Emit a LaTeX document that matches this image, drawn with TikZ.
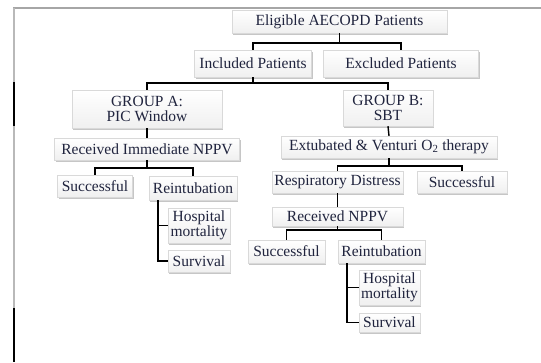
\documentclass[tikz,border=0pt]{standalone}
\usepackage{fontspec}
\setmainfont{Liberation Serif}
\usetikzlibrary{shadows}
\definecolor{boxtext}{RGB}{32,36,62}
\tikzset{
      flowbox/.style={
        draw=gray!30,
        line width=0.4pt,
        top color=white,
        bottom color=gray!12,
        drop shadow={shadow xshift=1.4pt,shadow yshift=-1.6pt,opacity=0.45},
        text=boxtext,
        font=\fontsize{15.5}{15}\selectfont,
        align=center,
        inner sep=1pt
      },
      link/.style={line width=1.4pt, color=black}
    }

\begin{document}
\begin{tikzpicture}[x=1pt,y=-1pt]
    \useasboundingbox (0,0) rectangle (541,362);
    \draw[gray!70, line width=2.5pt] (13,8) -- (541,8);
    \draw[gray!55, line width=2pt] (14,8) -- (14,362);
    \draw[black, line width=2pt] (14,82) -- (14,126);
    \draw[black, line width=2pt] (14,308) -- (14,362);

    \node[flowbox, minimum width=215pt, minimum height=23pt] (elig) at (339.5,21.5) {Eligible AECOPD Patients};
    \node[flowbox, minimum width=117pt, minimum height=27pt] (incl) at (253,63.5) {Included Patients};
    \node[flowbox, minimum width=155pt, minimum height=27pt] (excl) at (401,63.5) {Excluded Patients};
    \node[flowbox, minimum width=150pt, minimum height=38pt] (grpa) at (147,109) {GROUP A:\\PIC Window};
    \node[flowbox, minimum width=90pt, minimum height=36pt] (grpb) at (388,108) {GROUP B:\\SBT};
    \node[flowbox, minimum width=185pt, minimum height=22pt] (nppva) at (147,149) {Received Immediate NPPV};
    \node[flowbox, minimum width=75pt, minimum height=22pt] (succa) at (95,186) {Successful};
    \node[flowbox, minimum width=88pt, minimum height=24pt] (reinta) at (193,188) {Reintubation};
    \node[flowbox, minimum width=62pt, minimum height=35pt] (hospa) at (199,225.5) {Hospital\\mortality};
    \node[flowbox, minimum width=62pt, minimum height=22pt] (surva) at (199,261) {Survival};
    \node[flowbox, minimum width=216pt, minimum height=22pt] (extb) at (389,147) {Extubated \& Venturi O\textsubscript{2} therapy};
    \node[flowbox, minimum width=131pt, minimum height=22pt] (respb) at (337.5,182) {Respiratory Distress};
    \node[flowbox, minimum width=90pt, minimum height=22pt] (succb) at (462,182) {Successful};
    \node[flowbox, minimum width=131pt, minimum height=19pt] (nppvb) at (337.5,216.5) {Received NPPV};
    \node[flowbox, minimum width=77pt, minimum height=23pt] (succc) at (286.5,251.5) {Successful};
    \node[flowbox, minimum width=87pt, minimum height=23pt] (reintb) at (381.5,251.5) {Reintubation};
    \node[flowbox, minimum width=61pt, minimum height=35pt] (hospb) at (389.5,287.5) {Hospital\\mortality};
    \node[flowbox, minimum width=61pt, minimum height=19pt] (survb) at (389.5,322.5) {Survival};

    \draw[link] (elig.south) -- (elig.south |- 0,43) -| (incl.north);
    \draw[link] (elig.south) -- (elig.south |- 0,43) -| (excl.north);
    \draw[link] (incl.south) -- (incl.south |- 0,83) -| (grpa.north);
    \draw[link] (incl.south) -- (incl.south |- 0,83) -| (grpb.north);
    \draw[link] (grpa.south) -- (nppva.north);
    \draw[link] (nppva.south) -- (nppva.south |- 0,168) -| (succa.north);
    \draw[link] (nppva.south) -- (nppva.south |- 0,168) -| (reinta.north);
    \draw[link] ([xshift=9pt]reinta.south west) |- (hospa.west);
    \draw[link] ([xshift=9pt]reinta.south west) |- (surva.west);
    \draw[link] (grpb.south) -- (extb.north);
    \draw[link] (extb.south) -- (extb.south |- 0,166) -| (respb.north);
    \draw[link] (extb.south) -- (extb.south |- 0,166) -| (succb.north);
    \draw[link] (respb.south) -- (nppvb.north);
    \draw[link] (nppvb.south) -- (nppvb.south |- 0,230) -| (succc.north);
    \draw[link] (nppvb.south) -- (nppvb.south |- 0,230) -| (reintb.north);
    \draw[link] ([xshift=9pt]reintb.south west) |- (hospb.west);
    \draw[link] ([xshift=9pt]reintb.south west) |- (survb.west);
\end{tikzpicture}
\end{document}
